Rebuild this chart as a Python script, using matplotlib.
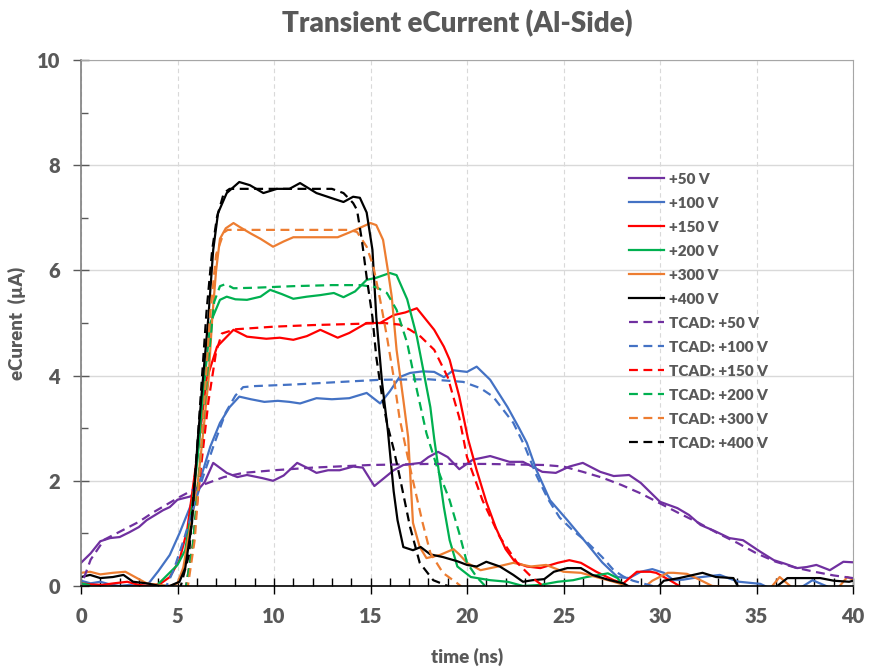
import matplotlib
matplotlib.use('Agg')
import matplotlib.pyplot as plt
from matplotlib.ticker import MultipleLocator

plt.rcParams['font.family'] = ['Lato', 'DejaVu Sans']
plt.rcParams['font.weight'] = 'bold'

# measured currents (time in ns, current in uA)
t_50 = [0, 0.5, 1.0, 1.5, 2.0, 2.5, 3.0, 3.4, 4.25, 4.6, 5.0, 5.65, 6.0, 6.4, 6.85, 7.55, 8.1, 8.6, 9.4,
        9.95, 10.5, 11.2, 11.7, 12.2, 12.8, 13.4, 14.1, 14.6, 15.2, 15.7, 16.2, 16.7, 17.6, 18.0, 18.5, 19.0,
        19.6, 20.3, 21.2, 22.2, 22.9, 23.9, 24.6, 25.3, 26.0, 26.9, 27.6, 28.4, 29.0, 30.0, 30.9, 31.5, 32.1,
        32.8, 33.6, 34.3, 35.2, 35.9, 36.5, 37.1, 37.6, 38.1, 38.8, 39.5, 40]
v_50 = [0.44, 0.62, 0.85, 0.91, 0.93, 1.02, 1.12, 1.25, 1.44, 1.5, 1.64, 1.7, 1.8, 1.97, 2.34, 2.15, 2.07,
        2.11, 2.05, 2.0, 2.1, 2.34, 2.25, 2.15, 2.2, 2.2, 2.27, 2.25, 1.9, 2.05, 2.2, 2.3, 2.34, 2.45, 2.55,
        2.45, 2.22, 2.4, 2.47, 2.36, 2.36, 2.17, 2.15, 2.27, 2.34, 2.17, 2.09, 2.11, 1.96, 1.6, 1.48, 1.35,
        1.16, 1.05, 0.91, 0.87, 0.65, 0.49, 0.42, 0.34, 0.36, 0.4, 0.30, 0.46, 0.45]

t_100 = [0, 0.5, 1.0, 1.5, 2.0, 2.5, 3.0, 3.4, 4.0, 4.6, 5.1, 5.65, 6.2, 6.7, 7.2, 7.7, 8.2, 8.8, 9.5, 10.2,
         10.8, 11.35, 12.2, 13.0, 13.9, 14.8, 15.5, 16.0, 16.5, 17.05, 17.7, 18.3, 18.8, 19.3, 20.0, 20.5,
         21.2, 22.1, 22.7, 23.1, 23.6, 24.3, 25.2, 26.2, 27.0, 27.8, 28.4, 29.0, 29.6, 30.2, 30.7, 31.2, 31.7,
         32.4, 33.1, 33.6, 34.1, 35.2, 36.0, 37.0, 37.9, 38.6, 39.2, 40]
v_100 = [0.1, 0.05, 0.08, 0.03, 0.0, 0.02, 0.0, 0.0, 0.28, 0.59, 1.0, 1.5, 2.05, 2.65, 3.1, 3.4, 3.6, 3.55,
         3.5, 3.52, 3.5, 3.47, 3.57, 3.55, 3.57, 3.67, 3.47, 3.7, 3.97, 4.05, 4.08, 4.07, 3.97, 4.1, 4.07,
         4.17, 3.92, 3.4, 3.0, 2.72, 2.2, 1.63, 1.25, 0.81, 0.45, 0.17, 0.15, 0.27, 0.32, 0.25, 0.11, 0.12,
         0.15, 0.18, 0.21, 0.14, 0.08, 0.04, -0.1, -0.1, 0.11, 0.0, -0.1, -0.1]

t_150 = [0, 0.5, 1.1, 1.7, 2.4, 3.0, 3.5, 4.1, 4.6, 5.1, 5.5, 5.9, 6.2, 6.5, 7.05, 7.9, 8.6, 9.6, 10.3, 11.0,
         11.7, 12.4, 13.3, 13.9, 14.8, 15.5, 16.2, 16.8, 17.4, 18.3, 18.8, 19.1, 19.6, 20.05, 20.5, 21.0,
         21.5, 22.0, 22.5, 23.1, 23.8, 24.7, 25.3, 25.9, 26.7, 27.6, 28.1, 28.8, 29.5, 29.8, 30.5, 31.0, 31.5]
v_150 = [0.05, 0.03, 0.02, 0.05, 0.08, 0.02, 0.0, 0.04, 0.17, 0.49, 1.06, 2.15, 3.0, 3.92, 4.55, 4.87, 4.74,
         4.7, 4.72, 4.68, 4.75, 4.87, 4.72, 4.81, 5.0, 5.0, 5.15, 5.2, 5.28, 4.87, 4.55, 4.3, 3.6, 2.8, 2.2,
         1.6, 1.1, 0.7, 0.45, 0.37, 0.34, 0.44, 0.49, 0.44, 0.27, 0.11, 0.05, 0.27, 0.27, 0.25, 0.11, 0.0, -0.1]

t_200 = [0, 0.4, 0.8, 3.5, 3.9, 4.45, 5.0, 5.4, 5.75, 6.05, 6.3, 6.7, 7.2, 7.55, 8.0, 8.6, 9.3, 9.8, 10.4,
         11.0, 11.7, 12.4, 13.1, 13.6, 14.2, 14.8, 15.3, 16.0, 16.35, 16.9, 17.4, 17.7, 18.1, 18.3, 18.8, 19.1,
         19.5, 20.2, 21.2, 22.1, 22.9, 23.8, 24.7, 25.5, 26.2, 27.3, 27.8, 28.3]
v_200 = [0.05, 0.02, -0.1, -0.1, 0.0, 0.2, 0.4, 0.68, 1.5, 2.45, 3.54, 5.0, 5.44, 5.5, 5.45, 5.44, 5.5, 5.63,
         5.55, 5.46, 5.5, 5.53, 5.57, 5.49, 5.6, 5.82, 5.86, 5.95, 5.91, 5.45, 4.74, 4.17, 3.4, 2.8, 1.5, 0.87,
         0.37, 0.17, 0.11, 0.08, 0.0, 0.02, 0.08, 0.11, 0.17, 0.24, 0.15, -0.1]

t_300 = [0, 0.47, 1.0, 1.65, 2.3, 2.9, 3.4, 4.0, 4.6, 5.0, 5.3, 5.6, 6.0, 6.3, 6.6, 6.8, 7.0, 7.2, 7.5, 7.9,
         8.2, 8.8, 9.3, 9.95, 10.5, 11.0, 11.7, 12.7, 13.3, 13.9, 14.4, 15.0, 15.3, 15.65, 15.9, 16.1, 16.35,
         16.7, 16.95, 17.2, 17.55, 17.9, 18.6, 19.3, 19.6, 20.0, 20.7, 21.6, 22.4, 23.3, 24.1, 25.0, 25.9,
         26.7, 27.6, 28.3, 29.1, 29.6, 30.4, 30.7, 31.4, 32.1, 32.7, 35.7, 36.2, 36.9, 39.2, 39.7, 40]
v_300 = [0.25, 0.27, 0.22, 0.25, 0.27, 0.15, 0.05, 0.02, 0.0, 0.05, 0.35, 1.0, 1.8, 2.8, 3.9, 5.1, 6.0, 6.6,
         6.8, 6.9, 6.83, 6.7, 6.6, 6.45, 6.55, 6.63, 6.63, 6.63, 6.63, 6.72, 6.8, 6.9, 6.86, 6.58, 6.0, 5.5,
         4.49, 3.54, 2.83, 1.2, 0.74, 0.53, 0.59, 0.7, 0.6, 0.44, 0.3, 0.37, 0.44, 0.37, 0.4, 0.27, 0.25,
         0.17, 0.08, 0.0, -0.05, 0.1, 0.25, 0.25, 0.23, 0.11, 0.0, -0.05, 0.17, -0.05, -0.05, 0.17, 0.12]

t_400 = [0, 0.47, 1.0, 1.65, 2.2, 2.7, 3.4, 4.1, 4.6, 5.1, 5.4, 5.75, 6.05, 6.3, 6.6, 6.85, 7.1, 7.55, 8.2,
         8.75, 9.45, 10.15, 10.8, 11.35, 12.2, 13.1, 13.6, 14.1, 14.45, 14.8, 15.1, 15.3, 15.6, 15.9, 16.2,
         16.4, 16.7, 17.2, 17.6, 18.1, 18.75, 19.5, 20.0, 20.5, 21.0, 21.7, 22.4, 22.9, 23.4, 24.0, 24.5,
         25.2, 25.9, 26.5, 27.4, 28.1, 28.6, 29.8, 30.2, 31.0, 32.2, 32.9, 33.8, 34.1, 35.9, 36.6, 37.6, 38.3,
         39.0, 39.8, 40]
v_400 = [0.17, 0.21, 0.15, 0.17, 0.21, 0.08, 0.05, 0.0, 0.0, 0.08, 0.34, 1.2, 2.78, 3.86, 5.11, 6.39, 7.09,
         7.47, 7.68, 7.62, 7.47, 7.55, 7.55, 7.66, 7.47, 7.36, 7.3, 7.4, 7.38, 7.1, 6.39, 5.11, 3.86, 2.95,
         1.8, 1.25, 0.74, 0.68, 0.74, 0.6, 0.55, 0.47, 0.4, 0.37, 0.46, 0.37, 0.21, 0.08, 0.11, 0.13, 0.27,
         0.34, 0.34, 0.21, 0.11, 0.05, -0.05, -0.05, 0.1, 0.15, 0.25, 0.17, 0.15, -0.05, -0.05, 0.15, 0.15,
         0.15, 0.1, 0.08, 0.1]

# TCAD simulations
t_50d = [0.15, 0.5, 1.2, 2.0, 3.0, 3.7, 5.1, 6.3, 7.4, 8.4, 10.0, 12.0, 15.0, 18.0, 21.0, 24.0, 25.0, 26.0,
         27.0, 28.0, 29.0, 30.0, 31.0, 32.0, 33.0, 34.0, 35.0, 36.0, 37.0, 38.0, 39.0, 40.0]
v_50d = [0.15, 0.5, 0.88, 1.03, 1.22, 1.39, 1.69, 1.92, 2.07, 2.15, 2.2, 2.25, 2.3, 2.32, 2.32, 2.3, 2.27,
         2.17, 2.06, 1.92, 1.76, 1.57, 1.38, 1.2, 1.0, 0.82, 0.62, 0.46, 0.35, 0.27, 0.2, 0.15]

t_100d = [4.3, 4.8, 5.3, 5.8, 6.3, 6.9, 7.5, 8.0, 8.4, 9.0, 11.0, 13.0, 15.5, 18.0, 19.8, 20.7, 21.35, 22.4,
          23.0, 23.6, 24.2, 24.8, 25.5, 26.2, 27.0, 27.6, 28.1, 28.6, 29.6, 30.2]
v_100d = [-0.1, 0.3, 0.85, 1.45, 2.05, 2.7, 3.3, 3.62, 3.78, 3.8, 3.83, 3.87, 3.92, 3.93, 3.88, 3.76, 3.6,
          3.1, 2.65, 2.1, 1.65, 1.3, 1.05, 0.84, 0.55, 0.3, 0.18, 0.1, 0.0, -0.1]

t_150d = [5.4, 5.8, 6.2, 6.6, 7.0, 7.3, 8.0, 10.0, 12.0, 14.0, 15.65, 16.5, 17.05, 17.6, 18.3, 19.0, 19.6,
          20.0, 20.8, 21.7, 22.6, 23.4, 24.3]
v_150d = [-0.1, 0.8, 2.2, 3.5, 4.45, 4.8, 4.88, 4.93, 4.96, 4.98, 5.0, 4.97, 4.87, 4.74, 4.49, 3.97, 3.2,
          2.45, 1.63, 0.93, 0.44, 0.15, -0.1]

t_200d = [5.4, 5.8, 6.2, 6.6, 6.9, 7.2, 7.5, 7.9, 9.0, 11.0, 13.0, 14.5, 15.3, 15.85, 16.35, 16.9, 17.4,
          17.9, 18.5, 19.1, 19.6, 20.0, 20.5, 21.2]
v_200d = [-0.1, 0.8, 2.5, 4.3, 5.4, 5.7, 5.74, 5.66, 5.67, 5.7, 5.72, 5.72, 5.68, 5.57, 5.25, 4.62, 3.73,
          2.9, 2.2, 1.63, 1.0, 0.44, 0.17, -0.1]

t_300d = [5.5, 5.9, 6.3, 6.7, 7.0, 7.4, 7.6, 9.0, 11.0, 13.3, 13.9, 14.3, 14.8, 15.15, 15.5, 15.85, 16.2,
          16.5, 16.9, 17.2, 17.7, 18.1, 18.75, 19.5, 20.0]
v_300d = [-0.1, 0.9, 3.0, 5.2, 6.3, 6.72, 6.77, 6.77, 6.77, 6.77, 6.77, 6.73, 6.45, 6.07, 5.44, 4.74, 3.97,
          3.2, 2.5, 2.0, 1.2, 0.63, 0.25, 0.05, -0.1]

t_400d = [5.1, 5.6, 6.05, 6.5, 6.8, 7.05, 7.4, 7.7, 10.0, 13.0, 13.6, 14.1, 14.3, 14.55, 14.8, 15.1, 15.3,
          15.6, 15.85, 16.2, 16.5, 17.05, 17.55, 18.25, 19.0, 19.5]
v_400d = [-0.1, 0.6, 2.8, 5.2, 6.4, 7.02, 7.47, 7.55, 7.55, 7.55, 7.47, 7.28, 7.15, 6.58, 5.87, 5.11, 4.35,
          3.6, 3.1, 2.6, 2.1, 1.12, 0.44, 0.11, 0.0, -0.1]

labels = ['+50 V', '+100 V', '+150 V', '+200 V', '+300 V', '+400 V']
colors = ['#7030A0', '#4472C4', '#FF0000', '#00B050', '#ED7D31', '#000000']
meas = [(t_50, v_50), (t_100, v_100), (t_150, v_150), (t_200, v_200), (t_300, v_300), (t_400, v_400)]
sims = [(t_50d, v_50d), (t_100d, v_100d), (t_150d, v_150d), (t_200d, v_200d), (t_300d, v_300d),
        (t_400d, v_400d)]

gray = '#595959'

fig = plt.figure(figsize=(8.7, 6.68), dpi=100)
ax = fig.add_axes([0.0931, 0.1228, 0.8874, 0.7874])

for (t, v), lab, c in zip(meas, labels, colors):
    ax.plot(t, v, color=c, lw=1.6, label=lab)
for (t, v), lab, c in zip(sims, labels, colors):
    ax.plot(t, v, color=c, lw=1.6, ls=(0, (4, 2.5)), label='TCAD: ' + lab)

ax.set_xlim(0, 40)
ax.set_ylim(0, 10)
ax.xaxis.set_major_locator(MultipleLocator(5))
ax.xaxis.set_minor_locator(MultipleLocator(1))
ax.yaxis.set_major_locator(MultipleLocator(2))
ax.yaxis.set_minor_locator(MultipleLocator(1))

ax.grid(True, axis='y', which='major', color='#D9D9D9', lw=1, ls='-')
ax.grid(True, axis='x', which='major', color='#D9D9D9', lw=0.8, ls=(0, (4, 3)))
ax.set_axisbelow(True)

ax.tick_params(axis='x', which='major', direction='inout', length=12, width=1, color='black',
               labelsize=14.5, labelcolor=gray, pad=9)
ax.tick_params(axis='x', which='minor', direction='in', length=6, width=1, color='black')
ax.tick_params(axis='y', which='major', direction='inout', length=12, width=1, color=gray,
               labelsize=14.5, labelcolor=gray, pad=9)
ax.tick_params(axis='y', which='minor', direction='in', length=5, width=1, color=gray)
for lbl in ax.get_xticklabels() + ax.get_yticklabels():
    lbl.set_fontweight('heavy')

ax.spines['bottom'].set_color('black')
ax.spines['bottom'].set_linewidth(1.2)
ax.spines['left'].set_color('#7F7F7F')
ax.spines['left'].set_linewidth(1.2)
ax.spines['top'].set_color('#A6A6A6')
ax.spines['right'].set_color('#A6A6A6')

ax.set_xlabel('time (ns)', fontsize=13.5, fontweight='heavy', color=gray, labelpad=16)
ax.set_ylabel('eCurent  (\u00b5A)', fontsize=13.5, fontweight='heavy', color=gray, labelpad=8)
fig.suptitle('Transient eCurrent (Al-Side)', x=0.526, y=0.985, fontsize=20, fontweight='heavy', color=gray)

leg = ax.legend(loc='upper left', bbox_to_anchor=(0.710, 0.786), frameon=False, fontsize=11,
                handlelength=2.3, handletextpad=0.3, labelspacing=0.72, borderpad=0, borderaxespad=0)
for txt in leg.get_texts():
    txt.set_color(gray)
    txt.set_fontweight('heavy')

fig.savefig('out.png', dpi=100)
